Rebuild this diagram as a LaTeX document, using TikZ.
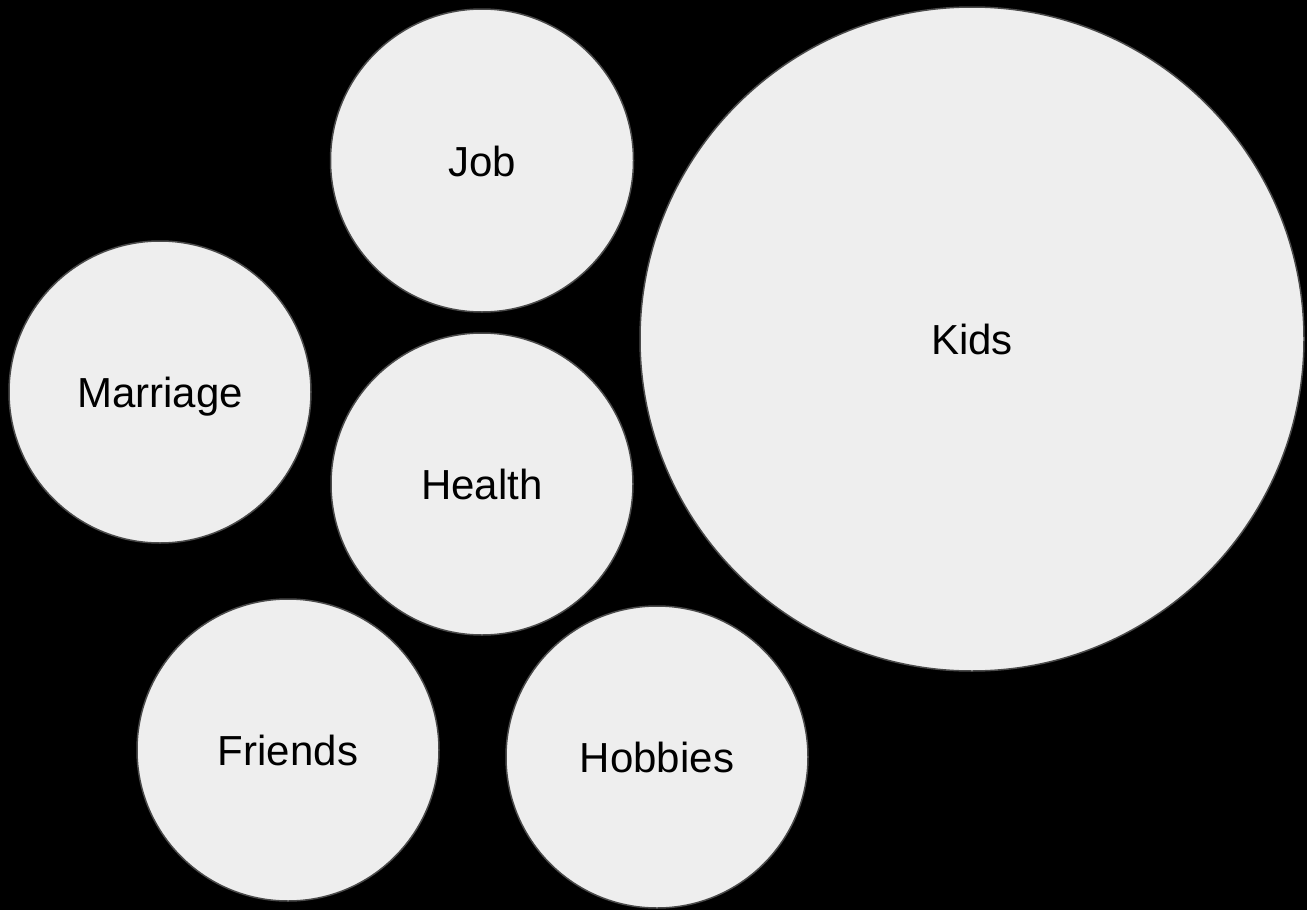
\documentclass[tikz,border=0pt]{standalone}
\usepackage{fontspec}
\setmainfont{Liberation Sans}
\definecolor{bubblefill}{HTML}{EEEEEE}
\definecolor{bubbleline}{HTML}{4A4A4A}
\begin{document}
\begin{tikzpicture}[x=1pt,y=-1pt,
  bubble/.style={circle,draw=bubbleline,fill=bubblefill,line width=1.5pt,inner sep=0pt},
  bubbletext/.style={anchor=base,inner sep=0pt,font=\fontsize{42}{50}\selectfont,text=black}]
\fill[black] (0,0) rectangle (1307,910);
\useasboundingbox (0,0) rectangle (1307,910);
\node[bubble,minimum size=303pt] (job) at (482,160.5) {};
\node[bubble,minimum size=664pt] (kids) at (972,339) {};
\node[bubble,minimum size=302pt] (marriage) at (160,392) {};
\node[bubble,minimum size=302pt] (health) at (482,484) {};
\node[bubble,minimum size=302pt] (friends) at (288,750) {};
\node[bubble,minimum size=302pt] (hobbies) at (657,757) {};
\node[bubbletext] (jobt) at ([yshift=-15.5pt]job.center) {Job};
\node[bubbletext] (kidst) at ([yshift=-15.5pt]kids.center) {Kids};
\node[bubbletext] (marriaget) at ([yshift=-15.5pt]marriage.center) {Marriage};
\node[bubbletext] (healtht) at ([yshift=-15.5pt]health.center) {Health};
\node[bubbletext] (friendst) at ([yshift=-15.5pt]friends.center) {Friends};
\node[bubbletext] (hobbiest) at ([yshift=-15.5pt]hobbies.center) {Hobbies};
\end{tikzpicture}
\end{document}
